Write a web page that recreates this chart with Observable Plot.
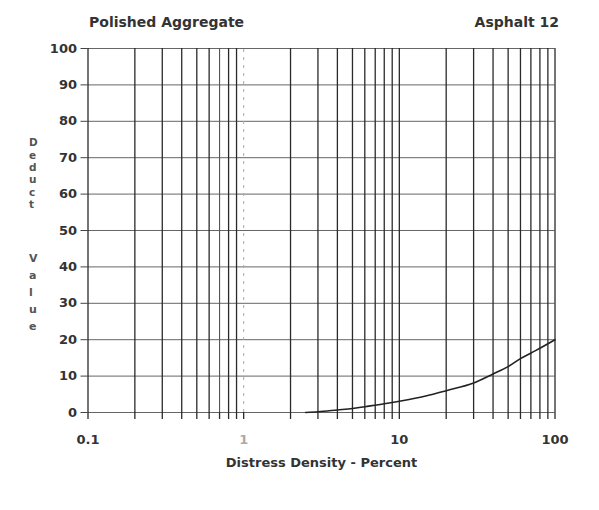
<!DOCTYPE html>
<html>
<head>
<meta charset="utf-8">
<script src="https://cdn.jsdelivr.net/npm/d3@7"></script>
<script src="https://cdn.jsdelivr.net/npm/@observablehq/plot@0.6"></script>
<style>
  html, body { margin: 0; padding: 0; background: #fff; }
</style>
</head>
<body>
<div id="chart"></div>
<script>
// ---- data ----
const titleLeft = "Polished Aggregate";
const titleRight = "Asphalt 12";
const xTitle = "Distress Density - Percent";
const yTitleA = "Deduct";
const yTitleB = "Value";

const xGrid = [0.1,0.2,0.3,0.4,0.5,0.6,0.7,0.8,0.9,1,2,3,4,5,6,7,8,9,10,20,30,40,50,60,70,80,90,100];
const xLabels = [0.1, 1, 10, 100];
const xLabelText = ["0.1", "1", "10", "100"];
const yTicks = [0,10,20,30,40,50,60,70,80,90,100];

const density = [2.5, 3, 4, 5, 6, 8, 10, 15, 20, 30, 40, 50, 60, 75, 100];
const deduct  = [0, 0.2, 0.7, 1.1, 1.6, 2.4, 3.1, 4.6, 6.0, 8.1, 10.6, 12.6, 14.8, 17.0, 20.0];

const curve = density.map((d, i) => ({x: d, y: deduct[i]}));
const xl = xLabels.map((v, i) => ({x: v, t: xLabelText[i]}));

const FONT = "'DejaVu Sans', sans-serif";

const chart = Plot.plot({
  width: 599,
  height: 510,
  marginLeft: 87.5,
  marginRight: 44.5,
  marginTop: 48,
  marginBottom: 98,
  style: {fontFamily: FONT, fontSize: "13px", color: "#333", background: "#fff", overflow: "visible"},
  x: {type: "log", domain: [0.1, 100]},
  y: {domain: [0, 100]},
  marks: [
    Plot.ruleY(yTicks, {stroke: "#666", strokeWidth: 1}),
    Plot.ruleX(xGrid.filter(d => d !== 1 && d !== 0.7), {y1: 0, y2: 100, stroke: "#2a2a2a", strokeWidth: 1.3}),
    Plot.ruleX([0.7], {y1: 0, y2: 100, stroke: "#555", strokeWidth: 1.1}),
    Plot.ruleX([1], {y1: 0, y2: 100, stroke: "#aaa", strokeWidth: 1, strokeDasharray: "3,5"}),
    Plot.axisX({ticks: xGrid, tickSize: 7, tickFormat: () => "", stroke: "#2a2a2a", strokeWidth: 1.3, label: null}),
    Plot.text(xl, {x: "x", y: () => 0, text: "t", dy: 27, fontWeight: "bold", fontSize: 13, fill: d => d.t === "1" ? "#aaa" : "#333"}),
    Plot.axisY({ticks: yTicks, tickSize: 7, tickPadding: 4, fontWeight: "bold", fontSize: 13, stroke: "#444", label: null}),
    Plot.line(curve, {x: "x", y: "y", stroke: "#222", strokeWidth: 1.6, curve: "monotone-x"}),
    Plot.text([titleLeft], {frameAnchor: "top-left", dx: 1, dy: -31, textAnchor: "start", fontWeight: "bold", fontSize: 14, fill: "#333"}),
    Plot.text([titleRight], {frameAnchor: "top-right", dx: 4, dy: -31, textAnchor: "end", fontWeight: "bold", fontSize: 14, fill: "#333"}),
    Plot.text([xTitle], {frameAnchor: "bottom", dy: 54, fontWeight: "bold", fontSize: 13, fill: "#333"}),
    Plot.text([yTitleA.split("").join("\n")], {frameAnchor: "top-left", dx: -59, dy: 89, lineAnchor: "top", lineHeight: 1.18, fontWeight: "bold", fontSize: 10.5, fill: "#555"}),
    Plot.text([yTitleB.split("").join("\n")], {frameAnchor: "top-left", dx: -59, dy: 201, lineAnchor: "top", lineHeight: 1.55, fontWeight: "bold", fontSize: 11, fill: "#555"})
  ]
});
document.getElementById("chart").appendChild(chart);
</script>
</body>
</html>
